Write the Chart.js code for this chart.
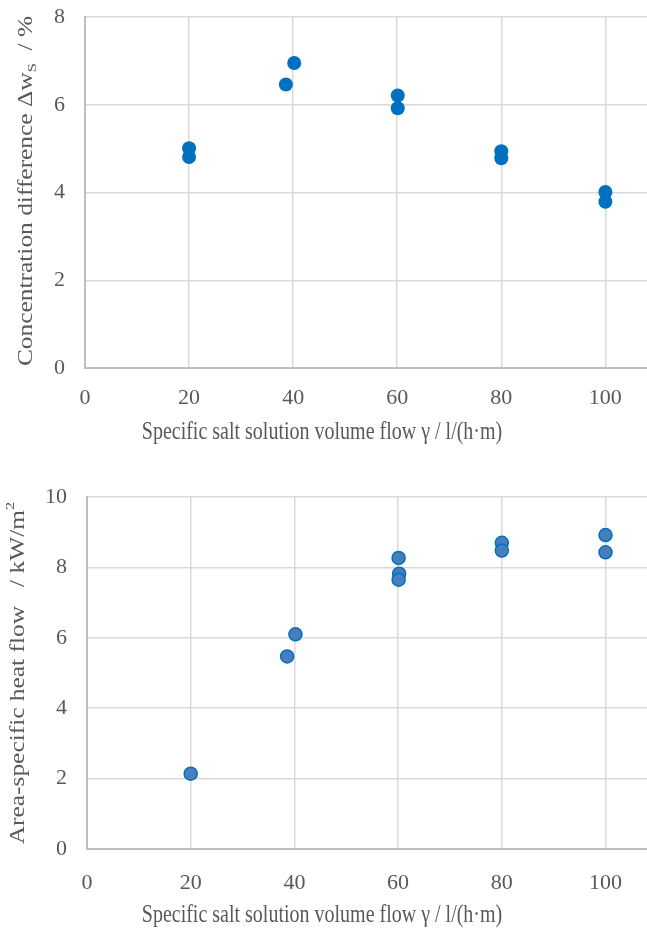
<!DOCTYPE html>
<html>
<head>
<meta charset="utf-8">
<script src="https://cdn.jsdelivr.net/npm/chart.js@4.4.1/dist/chart.umd.min.js"></script>
<style>
  html, body { margin: 0; padding: 0; background: #fff; }
  .box { position: absolute; left: 0; width: 647px; }
</style>
</head>
<body>
<div class="box" style="top:0;height:460px;"><canvas id="concChart"></canvas></div>
<div class="box" style="top:460px;height:472px;"><canvas id="heatChart"></canvas></div>
<script>
var concX = [20, 20, 38.6, 40.2, 60.1, 60.1, 80, 80, 100, 100];
var concY = [5.01, 4.81, 6.46, 6.95, 6.21, 5.92, 4.94, 4.78, 4.01, 3.79];

var heatX = [20, 38.6, 40.2, 60.1, 60.2, 60.1, 80, 80, 100, 100];
var heatY = [2.14, 5.47, 6.10, 8.27, 7.82, 7.65, 8.70, 8.48, 8.92, 8.43];

var xTicks = [0, 20, 40, 60, 80, 100];
var concTicks = [0, 2, 4, 6, 8];
var heatTicks = [0, 2, 4, 6, 8, 10];

var xTitle = 'Specific salt solution volume flow \u03b3 / l/(h\u00b7m)';

var serif = '"Liberation Serif", "Times New Roman", serif';
var grey = '#595959';
var stretch = 1.27; // the original text is drawn taller than wide

// titles drawn by hand so sub/superscripts and the off-centre position work
function drawParts(ctx, parts, x, y, rotated) {
	ctx.save();
	ctx.fillStyle = grey;
	ctx.textBaseline = 'middle';
	ctx.textAlign = 'left';
	var total = 0;
	parts.forEach(function(p) {
		ctx.font = (p.sub || p.sup ? 13 : 20) + 'px ' + serif;
		p.w = ctx.measureText(p.text).width;
		total += p.w;
	});
	ctx.translate(x, y);
	if (rotated) {
		ctx.rotate(-Math.PI / 2);
		ctx.scale(stretch, 1);
	} else {
		ctx.scale(1, stretch);
	}
	var pos = -total / 2;
	parts.forEach(function(p) {
		ctx.font = (p.sub || p.sup ? 13 : 20) + 'px ' + serif;
		var dy = p.sub ? 6 : (p.sup ? -8 : 0);
		ctx.fillText(p.text, pos, dy);
		pos += p.w;
	});
	ctx.restore();
}

var titlePlugin = {
	id: 'handTitles',
	afterDraw: function(chart, args, opts) {
		if (opts.yParts) drawParts(chart.ctx, opts.yParts, opts.yX, opts.yY, true);
		if (opts.xParts) drawParts(chart.ctx, opts.xParts, opts.xX, opts.xY, false);
	}
};

function keepTicks(list) {
	return function(scale) {
		scale.ticks = list.map(function(v) { return { value: v }; });
	};
}

function makeChart(id, xs, ys, yTicks, o) {
	var pts = xs.map(function(x, i) { return { x: x, y: ys[i] }; });
	return new Chart(document.getElementById(id).getContext('2d'), {
		type: 'scatter',
		data: {
			datasets: [{
				data: pts,
				backgroundColor: o.fill,
				borderColor: o.border,
				borderWidth: o.borderWidth,
				pointRadius: o.radius,
				pointHoverRadius: o.radius
			}]
		},
		plugins: [titlePlugin],
		options: {
			responsive: true,
			maintainAspectRatio: false,
			animation: false,
			layout: { autoPadding: false, padding: { top: o.padTop, right: 0, left: 0, bottom: 0 } },
			plugins: {
				legend: { display: false },
				tooltip: { enabled: false },
				handTitles: {
					yParts: o.yParts, yX: o.yTitleX, yY: o.yTitleY,
					xParts: [{ text: xTitle }], xX: 322, xY: o.xTitleY
				}
			},
			scales: {
				x: {
					type: 'linear',
					min: 0,
					max: 108,
					afterBuildTicks: keepTicks(xTicks),
					afterFit: function(s) {
						s.height = o.xHeight;
						s.paddingLeft = 0;
						s.paddingRight = 0;
					},
					// invisible tick marks push the labels down without adding layout padding
					grid: { color: '#d9d9d9', lineWidth: 1.5, drawTicks: true, tickLength: o.xTickPad, tickColor: 'rgba(0,0,0,0)' },
					border: { color: '#bfbfbf', width: 2 },
					ticks: { color: grey, font: { family: serif, size: 22 }, padding: 0, maxRotation: 0 }
				},
				y: {
					type: 'linear',
					min: 0,
					max: yTicks[yTicks.length - 1],
					afterBuildTicks: keepTicks(yTicks),
					afterFit: function(s) {
						s.width = o.yWidth;
						s.paddingTop = 0;
						s.paddingBottom = 0;
					},
					grid: { color: '#d9d9d9', lineWidth: 1.5, drawTicks: true, tickLength: 18, tickColor: 'rgba(0,0,0,0)' },
					border: { color: '#bfbfbf', width: 2 },
					ticks: { color: grey, font: { family: serif, size: 22 }, padding: 2 }
				}
			}
		}
	});
}

makeChart('concChart', concX, concY, concTicks, {
	fill: '#0070c0', border: '#0070c0', borderWidth: 0, radius: 7,
	padTop: 17, xHeight: 92, yWidth: 85, xTickPad: 17,
	yTitleX: 27, yTitleY: 191, xTitleY: 432,
	yParts: [
		{ text: 'Concentration difference \u0394w' },
		{ text: 'S', sub: true },
		{ text: '  / %' }
	]
});

makeChart('heatChart', heatX, heatY, heatTicks, {
	fill: '#4a7ebb', border: '#0070c0', borderWidth: 1.5, radius: 6.5,
	padTop: 37, xHeight: 83, yWidth: 87, xTickPad: 21,
	yTitleX: 19, yTitleY: 213, xTitleY: 455,
	yParts: [
		{ text: 'Area-specific heat flow   / kW/m' },
		{ text: '2', sup: true }
	]
});
</script>
</body>
</html>
